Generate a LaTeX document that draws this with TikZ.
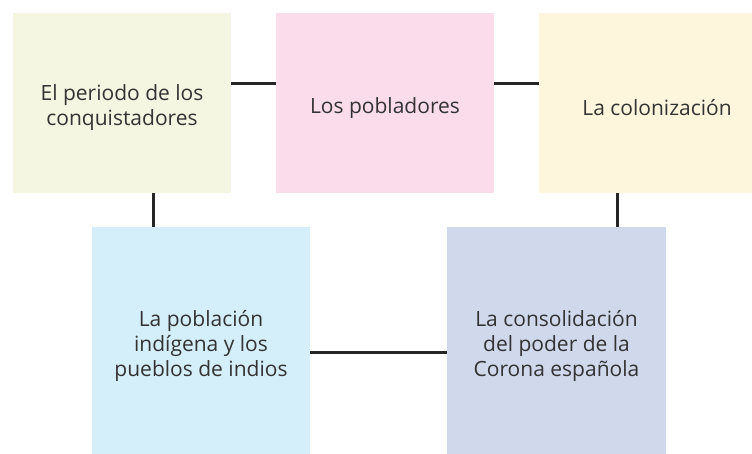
\documentclass[tikz,border=0pt]{standalone}
\usepackage{fontspec}
\setmainfont{Open Sans}
\usepackage{xcolor}
\usetikzlibrary{positioning}

\definecolor{perfill}{RGB}{244,246,226}
\definecolor{pobfill}{RGB}{250,220,235}
\definecolor{colfill}{RGB}{254,246,220}
\definecolor{indfill}{RGB}{212,238,250}
\definecolor{corfill}{RGB}{208,216,236}
\definecolor{txtgray}{RGB}{51,51,51}

\tikzset{
    topic/.style={inner sep=0pt, minimum width=218pt},
    topictext/.style={inner sep=0pt, align=center, text=txtgray, yshift=-5pt,
        font=\fontsize{21}{25}\selectfont},
    link/.style={line width=3pt, color=black!85}
}

\begin{document}
\begin{tikzpicture}[x=1pt,y=-1pt]
    \useasboundingbox (0,0) rectangle (752,453);
    \clip (0,0) rectangle (752,453);

    % Upper row
    \node[topic, fill=perfill, minimum height=180pt,
        label={[topictext]center:{El periodo de los\\conquistadores}}] (per) at (122,103) {};
    \node[topic, fill=pobfill, minimum height=180pt,
        label={[topictext]center:{Los pobladores}}] (pob) at (385,103) {};
    \node[topic, fill=colfill, minimum width=236pt, minimum height=180pt,
        label={[topictext]center:{La colonización}}] (col) at (657,103) {};

    % Lower row
    \node[topic, fill=indfill, minimum height=228pt,
        label={[topictext]center:{La población\\indígena y los\\pueblos de indios}}] (ind) at (201,341) {};
    \node[topic, fill=corfill, minimum width=219pt, minimum height=228pt,
        label={[topictext]center:{La consolidación\\del poder de la\\Corona española}}] (cor) at (556.5,341) {};

    % Connectors
    \draw[link] ([yshift=20pt]per.east) -- ([yshift=20pt]pob.west);
    \draw[link] ([yshift=20pt]pob.east) -- ([yshift=20pt]col.west);
    \draw[link] ([xshift=31pt]per.south) -- ([xshift=-48pt]ind.north);
    \draw[link] ([xshift=-40pt]col.south) -- ([xshift=60.5pt]cor.north);
    \draw[link] ([yshift=-11pt]ind.east) -- ([yshift=-11pt]cor.west);
\end{tikzpicture}
\end{document}
